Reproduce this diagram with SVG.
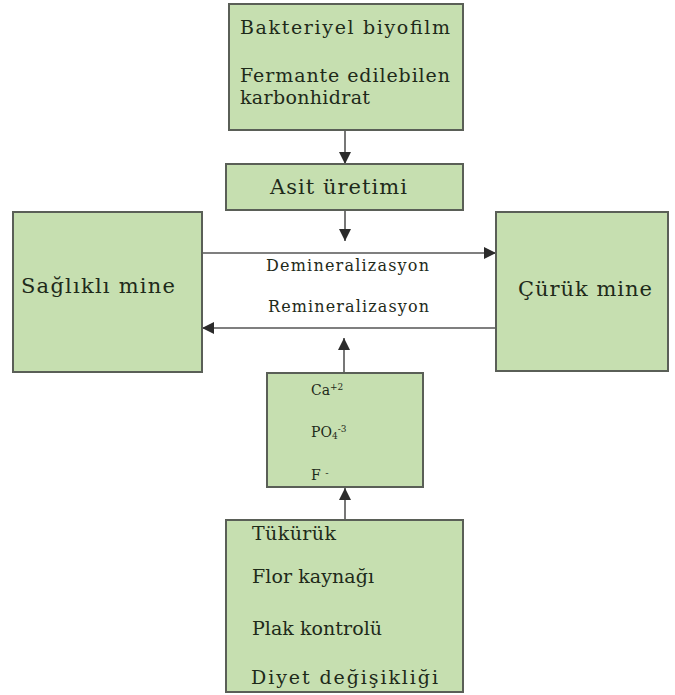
<svg xmlns="http://www.w3.org/2000/svg" width="675" height="695" viewBox="0 0 675 695">
<defs>
<marker id="ah" viewBox="0 0 10 10" refX="10" refY="5" markerWidth="12" markerHeight="12" markerUnits="userSpaceOnUse" orient="auto">
<path d="M0,0 L10,5 L0,10 Z" fill="#2b2b2b"/>
</marker>
</defs>
<style>
.box{fill:#c6dfb0;stroke:#5a5f57;stroke-width:2}
.t{font-family:"DejaVu Serif","Liberation Serif",serif;fill:#1e2a1a}
.m{font-size:19px}
.l{font-size:21px}
.s{font-size:16px}
.xs{font-size:14px}
.c{stroke:#555;stroke-width:1.6;fill:none;marker-end:url(#ah)}
</style>
<rect width="675" height="695" fill="#fff"/>
<g id="connectors">
<line class="c" x1="345" y1="130" x2="345" y2="164"/>
<line class="c" x1="345" y1="210" x2="345" y2="241"/>
<line class="c" x1="202" y1="253" x2="496" y2="253"/>
<line class="c" x1="496" y1="328" x2="202" y2="328"/>
<line class="c" x1="344" y1="373" x2="344" y2="338"/>
<line class="c" x1="345" y1="520" x2="345" y2="488"/>
</g>
<g id="node-biyofilm">
<rect class="box" x="229" y="4" width="234" height="126"/>
<text class="t m" x="240" y="34" textLength="210">Bakteriyel biyofilm</text>
<text class="t m" x="240" y="82" textLength="210">Fermante edilebilen</text>
<text class="t m" x="240" y="104" textLength="130">karbonhidrat</text>
</g>
<g id="node-asit">
<rect class="box" x="226" y="164" width="237" height="46"/>
<text class="t l" x="270" y="194" textLength="137">Asit üretimi</text>
</g>
<g id="node-saglikli">
<rect class="box" x="13" y="212" width="189" height="160"/>
<text class="t l" x="21" y="293" textLength="154">Sağlıklı mine</text>
</g>
<g id="node-curuk">
<rect class="box" x="496" y="212" width="172" height="159"/>
<text class="t l" x="518" y="296" textLength="134">Çürük mine</text>
</g>
<g id="labels">
<text class="t s" x="266" y="271" textLength="163">Demineralizasyon</text>
<text class="t s" x="268" y="312" textLength="161">Remineralizasyon</text>
</g>
<g id="node-iyonlar">
<rect class="box" x="267" y="373" width="156" height="114"/>
<text class="t xs" x="311" y="395">Ca<tspan font-size="9" dy="-5">+2</tspan></text>
<text class="t xs" x="311" y="437">PO<tspan font-size="9" dy="2">4</tspan><tspan font-size="9" dy="-7">-3</tspan></text>
<text class="t xs" x="311" y="480">F <tspan font-size="10" dy="-4">-</tspan></text>
</g>
<g id="node-faktorler">
<rect class="box" x="226" y="520" width="237" height="172"/>
<text class="t m" x="252" y="540" textLength="84">Tükürük</text>
<text class="t m" x="252" y="583" textLength="122">Flor kaynağı</text>
<text class="t m" x="252" y="635" textLength="130">Plak kontrolü</text>
<text class="t m" x="251" y="684" textLength="187">Diyet değişikliği</text>
</g>
</svg>
